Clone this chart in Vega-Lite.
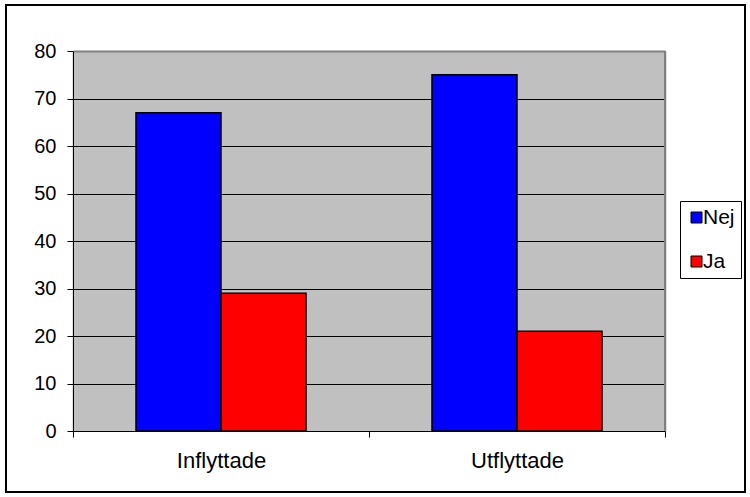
{
  "$schema": "https://vega.github.io/schema/vega-lite/v6.json",
  "autosize": {"type": "none"},
  "width": 739,
  "height": 487,
  "padding": {"left": 6, "top": 5, "right": 5, "bottom": 5},
  "background": "white",
  "config": {
    "view": {"stroke": "black", "strokeWidth": 2, "fill": "white"},
    "font": "Liberation Sans",
    "axis": {"labelFont": "Liberation Sans", "labelColor": "black", "titleFont": "Liberation Sans"},
    "legend": {"labelFont": "Liberation Sans", "labelColor": "black"}
  },
  "data": {
    "values": [
      {"cat": "Inflyttade", "serie": "Nej", "value": 67},
      {"cat": "Inflyttade", "serie": "Ja", "value": 29},
      {"cat": "Utflyttade", "serie": "Nej", "value": 75},
      {"cat": "Utflyttade", "serie": "Ja", "value": 21}
    ]
  },
  "layer": [
    {
      "mark": {"type": "bar", "stroke": "black", "strokeWidth": 1.5},
      "encoding": {
        "x": {
          "field": "cat", "type": "nominal", "sort": ["Inflyttade", "Utflyttade"],
          "scale": {"range": [67, 659], "paddingInner": 0, "paddingOuter": 0},
          "axis": {
            "orient": "top", "offset": -426, "title": null, "domain": false, "labels": false,
            "grid": false, "ticks": true, "tickSize": 380, "tickWidth": 298, "tickColor": "#C0C0C0"
          }
        },
        "xOffset": {
          "field": "serie", "type": "nominal", "sort": ["Nej", "Ja"],
          "scale": {"paddingInner": 0, "paddingOuter": 0.741}
        },
        "y": {
          "field": "value", "type": "quantitative", "stack": null,
          "scale": {"domain": [0, 80], "range": [426, 46], "nice": false, "zero": true},
          "axis": {
            "orient": "left", "offset": -67, "title": null, "domain": false, "grid": false,
            "values": [0, 10, 20, 30, 40, 50, 60, 70, 80],
            "tickSize": 6, "tickColor": "black", "labelFontSize": 20, "labelPadding": 11
          }
        },
        "color": {
          "field": "serie", "type": "nominal",
          "scale": {"domain": ["Nej", "Ja"], "range": ["#0000FF", "#FF0000"]},
          "legend": {
            "orient": "none", "legendX": 674, "legendY": 196, "title": null,
            "strokeColor": "black", "fillColor": "white", "padding": 6,
            "symbolType": "square", "symbolSize": 121, "symbolStrokeColor": "black",
            "symbolStrokeWidth": 1, "labelFontSize": 21, "rowPadding": 22, "labelOffset": -4
          }
        }
      }
    },
    {
      "transform": [{"filter": "datum.cat === 'Utflyttade' && datum.serie === 'Nej'"}],
      "mark": {"type": "rule", "stroke": "#808080", "strokeWidth": 2},
      "encoding": {
        "x": {
          "field": "cat", "type": "nominal", "bandPosition": 1,
          "axis": {
            "orient": "bottom", "offset": -61, "title": null, "tickBand": "extent",
            "tickSize": 6, "tickColor": "black", "domainColor": "black", "grid": false,
            "labelAngle": 0, "labelFontSize": 22, "labelPadding": 13
          }
        },
        "y": {
          "datum": 0, "type": "quantitative",
          "axis": {
            "orient": "right", "offset": -672, "title": null, "labels": false, "grid": false,
            "values": [10, 20, 30, 40, 50, 60, 70, 80],
            "tickSize": 592, "domain": true, "domainColor": "black",
            "tickColor": {"condition": {"test": "datum.value === 80", "value": "#808080"}, "value": "black"},
            "tickWidth": {"condition": {"test": "datum.value === 80", "value": 2}, "value": 1}
          }
        },
        "y2": {"datum": 80}
      }
    }
  ],
  "resolve": {"axis": {"x": "independent", "y": "independent"}}
}
